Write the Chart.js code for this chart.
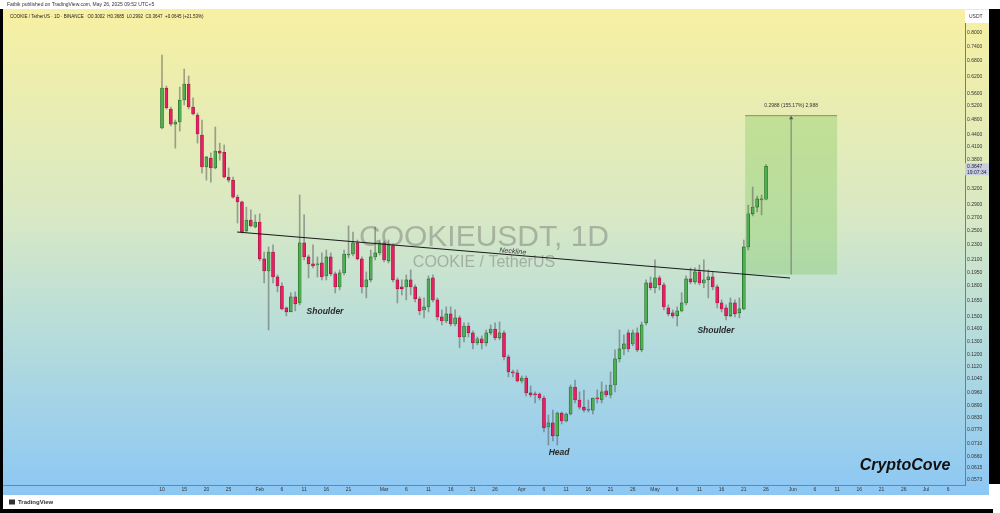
<!DOCTYPE html>
<html>
<head>
<meta charset="utf-8">
<script src="https://cdn.jsdelivr.net/npm/chart.js@4.4.1/dist/chart.umd.min.js"></script>
<style>
html, body { margin: 0; padding: 0; background: #fff; }
canvas { display: block; }
</style>
</head>
<body>
<canvas id="c" width="1000" height="513"></canvas>
<script>
// COOKIE / TetherUS, 1D candles, 2025-01-10 .. 2025-05-26
const startDate = '2025-01-10';

const opens = [
  0.4569, 0.578, 0.511, 0.4676, 0.4733, 0.539, 0.5922, 0.517, 0.4933, 0.4384,
  0.3631, 0.3829, 0.361, 0.3988, 0.396, 0.3422, 0.336, 0.304, 0.2955, 0.249,
  0.2655, 0.255, 0.2624, 0.2112, 0.1967, 0.2198, 0.1899, 0.180, 0.1582, 0.1545,
  0.1688, 0.1629, 0.232, 0.2136, 0.205, 0.2038, 0.2062, 0.191, 0.2136, 0.1933,
  0.179, 0.1944, 0.2161, 0.2174, 0.232, 0.2112, 0.179, 0.1866, 0.2136, 0.2187,
  0.232, 0.2087, 0.228, 0.1866, 0.179, 0.179, 0.1866, 0.179, 0.1668, 0.1563,
  0.1591, 0.1888, 0.1658, 0.15, 0.1464, 0.1527, 0.1439, 0.1491, 0.1333, 0.1422,
  0.1365, 0.1287, 0.1318, 0.1287, 0.1365, 0.1397, 0.1326, 0.1365, 0.1185, 0.1084,
  0.1078, 0.1028, 0.1046, 0.0958, 0.0952, 0.0952, 0.093, 0.0784, 0.0803, 0.0744,
  0.0851, 0.0812, 0.0846, 0.0992, 0.0919, 0.0881, 0.0866, 0.0866, 0.093, 0.0919,
  0.097, 0.0947, 0.1004, 0.1171, 0.1242, 0.1365, 0.1279, 0.1365, 0.1235, 0.1448,
  0.1833, 0.1781, 0.1888, 0.1812, 0.1582, 0.1536, 0.1509, 0.1554, 0.1629, 0.1877,
  0.1844, 0.1956, 0.1833, 0.1866, 0.1899, 0.179, 0.1629, 0.1582, 0.1509, 0.1629,
  0.1536, 0.1572, 0.2266, 0.2754, 0.2866, 0.2990, 0.3002
];
const highs = [
  0.7027, 0.585, 0.517, 0.479, 0.5817, 0.6469, 0.6208, 0.5455, 0.499, 0.479,
  0.386, 0.3944, 0.4595, 0.418, 0.4133, 0.361, 0.3422, 0.3078, 0.297, 0.2866,
  0.282, 0.2737, 0.2754, 0.2198, 0.2266, 0.2293, 0.1921, 0.1833, 0.1591, 0.173,
  0.1738, 0.3078, 0.2737, 0.2161, 0.2293, 0.2136, 0.2187, 0.2225, 0.2187, 0.1956,
  0.1979, 0.2225, 0.2565, 0.2475, 0.236, 0.2136, 0.1956, 0.2225, 0.255, 0.236,
  0.2347, 0.236, 0.2307, 0.1888, 0.1866, 0.1921, 0.1979, 0.1812, 0.1688, 0.1678,
  0.191, 0.1921, 0.1678, 0.1563, 0.1591, 0.1591, 0.1563, 0.1509, 0.1448, 0.1448,
  0.1381, 0.1333, 0.1341, 0.1389, 0.1431, 0.1448, 0.1456, 0.1381, 0.1199, 0.1097,
  0.1097, 0.1059, 0.1059, 0.0998, 0.0964, 0.0958, 0.0941, 0.0841, 0.0866, 0.0856,
  0.0856, 0.0851, 0.1004, 0.1034, 0.0964, 0.0975, 0.0919, 0.093, 0.0975, 0.1022,
  0.1004, 0.1084, 0.1235, 0.1389, 0.1349, 0.1389, 0.1389, 0.1406, 0.1456, 0.1866,
  0.1899, 0.2099, 0.191, 0.1833, 0.161, 0.1563, 0.1591, 0.173, 0.191, 0.2002,
  0.2002, 0.2038, 0.2099, 0.1979, 0.1956, 0.1812, 0.1658, 0.161, 0.1678, 0.1658,
  0.1678, 0.236, 0.290, 0.3226, 0.3060, 0.3078, 0.3685
];
const lows = [
  0.4542, 0.511, 0.4623, 0.4058, 0.4488, 0.5233, 0.511, 0.4933, 0.418, 0.3505,
  0.336, 0.332, 0.359, 0.378, 0.340, 0.332, 0.302, 0.2610, 0.246, 0.2475,
  0.255, 0.2535, 0.2087, 0.1833, 0.1389, 0.1833, 0.1738, 0.1563, 0.1509, 0.1554,
  0.1554, 0.161, 0.2099, 0.1888, 0.2002, 0.1899, 0.1866, 0.1866, 0.191, 0.1728,
  0.1759, 0.1921, 0.2124, 0.2149, 0.2099, 0.1728, 0.1678, 0.1844, 0.2099, 0.2161,
  0.2074, 0.2062, 0.1844, 0.1629, 0.1708, 0.1658, 0.1708, 0.1639, 0.1518, 0.1491,
  0.1545, 0.1639, 0.1473, 0.1431, 0.1448, 0.1422, 0.1422, 0.125, 0.1295, 0.1333,
  0.1242, 0.1272, 0.1242, 0.1264, 0.1349, 0.131, 0.131, 0.1164, 0.1053, 0.1053,
  0.1022, 0.1016, 0.0941, 0.0936, 0.0903, 0.0919, 0.0761, 0.0705, 0.0722, 0.0705,
  0.0798, 0.0807, 0.0841, 0.0903, 0.0871, 0.0856, 0.0856, 0.0846, 0.0903, 0.0903,
  0.0936, 0.093, 0.0964, 0.115, 0.1199, 0.1221, 0.1264, 0.1221, 0.1221, 0.1431,
  0.1759, 0.1728, 0.1759, 0.1563, 0.1509, 0.1491, 0.1422, 0.1545, 0.161, 0.1822,
  0.1822, 0.1812, 0.1781, 0.1678, 0.1759, 0.1582, 0.1545, 0.1473, 0.15, 0.15,
  0.1491, 0.1563, 0.2225, 0.2721, 0.2786, 0.2737, 0.2992
];
const closes = [
  0.5783, 0.514, 0.4676, 0.4733, 0.539, 0.5922, 0.517, 0.4963, 0.441, 0.3631,
  0.3852, 0.361, 0.3988, 0.394, 0.3422, 0.336, 0.304, 0.2955, 0.2475, 0.2655,
  0.2565, 0.2624, 0.2112, 0.1967, 0.2198, 0.1899, 0.180, 0.1572, 0.1545, 0.1688,
  0.162, 0.232, 0.2136, 0.205, 0.2026, 0.205, 0.1899, 0.2136, 0.1933, 0.179,
  0.1944, 0.2174, 0.2174, 0.232, 0.2112, 0.179, 0.1866, 0.2136, 0.2187, 0.232,
  0.2099, 0.2293, 0.1866, 0.177, 0.177, 0.1866, 0.179, 0.1668, 0.1554, 0.1591,
  0.1877, 0.1658, 0.15, 0.1464, 0.1527, 0.1439, 0.1491, 0.1333, 0.1422, 0.1365,
  0.1287, 0.1318, 0.1287, 0.1365, 0.1397, 0.1326, 0.1365, 0.1185, 0.1084, 0.1078,
  0.1028, 0.1046, 0.0958, 0.0947, 0.0947, 0.093, 0.0779, 0.0803, 0.0744, 0.0851,
  0.0812, 0.0846, 0.0992, 0.0919, 0.0881, 0.0866, 0.0871, 0.093, 0.0925, 0.0964,
  0.0947, 0.1004, 0.1171, 0.1242, 0.1279, 0.1242, 0.1365, 0.1235, 0.1431, 0.1833,
  0.1781, 0.1888, 0.1812, 0.1591, 0.1527, 0.1509, 0.1554, 0.1629, 0.1877, 0.1844,
  0.1956, 0.1833, 0.1866, 0.1899, 0.179, 0.1629, 0.1572, 0.1509, 0.1629, 0.1527,
  0.1572, 0.2266, 0.2754, 0.2866, 0.3008, 0.3002, 0.3647
];

// time axis
const tickDates = [
  '2025-01-10', '2025-01-15', '2025-01-20', '2025-01-25', '2025-02-01', '2025-02-06',
  '2025-02-11', '2025-02-16', '2025-02-21', '2025-03-01', '2025-03-06', '2025-03-11',
  '2025-03-16', '2025-03-21', '2025-03-26', '2025-04-01', '2025-04-06', '2025-04-11',
  '2025-04-16', '2025-04-21', '2025-04-26', '2025-05-01', '2025-05-06', '2025-05-11',
  '2025-05-16', '2025-05-21', '2025-05-26', '2025-06-01', '2025-06-06', '2025-06-11',
  '2025-06-16', '2025-06-21', '2025-06-26', '2025-07-01', '2025-07-06'
];
const tickLabels = [
  '10', '15', '20', '25', 'Feb', '6', '11', '16', '21', 'Mar', '6', '11',
  '16', '21', '26', 'Apr', '6', '11', '16', '21', '26', 'May', '6', '11',
  '16', '21', '26', 'Jun', '6', '11', '16', '21', '26', 'Jul', '6'
];

// price axis (log)
const priceTicks = [
  0.8, 0.74, 0.68, 0.62, 0.56, 0.52, 0.48, 0.44, 0.41, 0.38, 0.32, 0.29, 0.27,
  0.25, 0.23, 0.21, 0.195, 0.18, 0.165, 0.15, 0.14, 0.13, 0.12, 0.112, 0.104,
  0.096, 0.089, 0.083, 0.077, 0.071, 0.066, 0.0615, 0.0573
];

// drawings
const necklineDays = [16.9, 141.4];
const necklinePrices = [0.2474, 0.1887];
const targetDays = [131.3, 152.0];
const targetPrices = [0.19256, 0.49136];
const notes = [
  { text: 'Shoulder', day: 36.7, price: 0.1545 },
  { text: 'Head', day: 89.4, price: 0.0672 },
  { text: 'Shoulder', day: 124.7, price: 0.1381 }
];

const dayMs = 86400000;
const t0 = Date.parse(startDate);
const dayOf = d => (Date.parse(d) - t0) / dayMs;
const tickDays = tickDates.map(dayOf);

const up = opens.map((o, i) => closes[i] >= o);
const bodies = opens.map((o, i) => ({ x: i, y: [o, closes[i]] }));
const wicks = lows.map((l, i) => ({ x: i, y: [l, highs[i]] }));

const FONT = '"Liberation Sans", Arial, sans-serif';
Chart.defaults.font.family = FONT;

const frame = {
  id: 'frame',
  beforeDraw(chart) {
    const { ctx, width, height } = chart;
    ctx.save();
    ctx.fillStyle = '#fff';
    ctx.fillRect(0, 0, width, height);
    const g = ctx.createLinearGradient(0, 9, 0, 495);
    g.addColorStop(0, '#f7f0a2');
    g.addColorStop(0.42, '#d9e9c4');
    g.addColorStop(0.68, '#b5dcdc');
    g.addColorStop(1, '#8cc7f4');
    ctx.fillStyle = g;
    ctx.fillRect(3, 9, 986, 486);
    ctx.fillStyle = '#000';
    ctx.fillRect(0, 9, 3, 504);
    ctx.fillRect(989, 9, 11, 475);
    ctx.fillRect(0, 509, 993, 4);
    ctx.fillStyle = '#333';
    ctx.font = '5px ' + FONT;
    ctx.textBaseline = 'middle';
    ctx.fillText('Fatbik published on TradingView.com, May 26, 2025 09:52 UTC+5', 7, 4.5);
    ctx.font = '600 6px ' + FONT;
    ctx.fillText('TradingView', 18, 502);
    ctx.fillRect(9, 499.5, 6, 5);
    ctx.restore();
  },
  beforeDatasetsDraw(chart) {
    const { ctx, chartArea: a, scales: { x, y } } = chart;
    ctx.save();
    const cx = (a.left + a.right) / 2;
    const cy = (a.top + a.bottom) / 2;
    ctx.textAlign = 'center';
    ctx.textBaseline = 'middle';
    ctx.fillStyle = 'rgba(105,105,105,0.42)';
    ctx.font = '30px ' + FONT;
    ctx.fillText('COOKIEUSDT, 1D', cx, cy - 10);
    ctx.font = '16px ' + FONT;
    ctx.fillText('COOKIE / TetherUS', cx, cy + 15.5);
    // target box
    const x0 = x.getPixelForValue(targetDays[0]);
    const x1 = x.getPixelForValue(targetDays[1]);
    const yLo = y.getPixelForValue(targetPrices[0]);
    const yHi = y.getPixelForValue(targetPrices[1]);
    ctx.fillStyle = 'rgba(115,195,85,0.32)';
    ctx.fillRect(x0, yHi, x1 - x0, yLo - yHi);
    ctx.restore();
  },
  afterDatasetsDraw(chart) {
    const { ctx, chartArea: a, scales: { x, y } } = chart;
    ctx.save();
    // measurement arrow + text
    const x0 = x.getPixelForValue(targetDays[0]);
    const x1 = x.getPixelForValue(targetDays[1]);
    const yLo = y.getPixelForValue(targetPrices[0]);
    const yHi = y.getPixelForValue(targetPrices[1]);
    const xm = (x0 + x1) / 2;
    ctx.strokeStyle = 'rgba(80,90,80,0.8)';
    ctx.lineWidth = 0.8;
    ctx.beginPath();
    ctx.moveTo(x0, yHi); ctx.lineTo(x1, yHi);
    ctx.stroke();
    ctx.strokeStyle = 'rgba(90,90,90,0.75)';
    ctx.lineWidth = 1;
    ctx.beginPath();
    ctx.moveTo(xm, yLo); ctx.lineTo(xm, yHi + 1);
    ctx.stroke();
    ctx.fillStyle = 'rgba(80,80,80,0.85)';
    ctx.beginPath();
    ctx.moveTo(xm, yHi); ctx.lineTo(xm - 2.2, yHi + 3.5); ctx.lineTo(xm + 2.2, yHi + 3.5);
    ctx.fill();
    const diff = targetPrices[1] - targetPrices[0];
    ctx.fillStyle = '#333';
    ctx.font = '5px ' + FONT;
    ctx.textAlign = 'center';
    ctx.textBaseline = 'middle';
    ctx.fillText(diff.toFixed(4) + ' (' + (diff / targetPrices[0] * 100).toFixed(2) + '%) 2,988', xm, yHi - 10);

    // neckline label
    const nx0 = x.getPixelForValue(necklineDays[0]), ny0 = y.getPixelForValue(necklinePrices[0]);
    const nx1 = x.getPixelForValue(necklineDays[1]), ny1 = y.getPixelForValue(necklinePrices[1]);
    const lx = x.getPixelForValue(79);
    const ly = ny0 + (ny1 - ny0) * (lx - nx0) / (nx1 - nx0);
    ctx.save();
    ctx.translate(lx, ly - 3.5);
    ctx.rotate(Math.atan2(ny1 - ny0, nx1 - nx0));
    ctx.font = 'italic 7px ' + FONT;
    ctx.fillStyle = '#333';
    ctx.fillText('Neckline', 0, 0);
    ctx.restore();

    // pattern notes
    ctx.font = 'italic 600 8.5px ' + FONT;
    ctx.fillStyle = '#2a2a2a';
    notes.forEach(n => ctx.fillText(n.text, x.getPixelForValue(n.day), y.getPixelForValue(n.price)));

    // header
    ctx.textAlign = 'left';
    ctx.font = '4.5px ' + FONT;
    ctx.fillStyle = '#222';
    const last = opens.length - 1;
    const chg = closes[last] - closes[last - 1];
    ctx.fillText('COOKIE / TetherUS \u00b7 1D \u00b7 BINANCE   O' + opens[last].toFixed(4) + '  H' + highs[last].toFixed(4) +
      '  L' + lows[last].toFixed(4) + '  C' + closes[last].toFixed(4) + '  +' + chg.toFixed(4) + ' (+21.53%)', 10, 17);

    // USDT box and last price label
    ctx.font = '5px ' + FONT;
    ctx.fillStyle = '#fff';
    ctx.fillRect(a.right, 10, 24, 13);
    ctx.fillStyle = '#333';
    ctx.fillText('USDT', a.right + 4, 16.5);
    const py = y.getPixelForValue(closes[last]);
    ctx.fillStyle = '#c9cde2';
    ctx.fillRect(a.right, py - 3, 24, 12);
    ctx.fillStyle = '#223';
    ctx.fillText(closes[last].toFixed(4), a.right + 2, py);
    ctx.fillText('19:07:34', a.right + 2, py + 6);

    // brand
    ctx.font = 'italic 700 16px ' + FONT;
    ctx.fillStyle = '#111';
    ctx.textAlign = 'center';
    ctx.fillText('CryptoCove', 905, 466);
    ctx.restore();
  }
};

new Chart(document.getElementById('c'), {
  type: 'bar',
  data: {
    datasets: [
      {
        type: 'line',
        data: necklineDays.map((d, i) => ({ x: d, y: necklinePrices[i] })),
        borderColor: '#1a1a1a',
        borderWidth: 1.1,
        pointRadius: 0,
        order: 0
      },
      {
        data: bodies,
        backgroundColor: up.map(u => u ? '#4caf50' : '#e91e63'),
        borderColor: up.map(u => u ? '#1f5a22' : '#8a1538'),
        borderWidth: 0.6,
        borderSkipped: false,
        barThickness: 3,
        minBarLength: 1,
        grouped: false,
        order: 1
      },
      {
        data: wicks,
        backgroundColor: 'rgba(95,95,95,0.55)',
        barThickness: 1,
        grouped: false,
        order: 2
      }
    ]
  },
  options: {
    responsive: false,
    animation: false,
    events: [],
    layout: { padding: { left: 3, top: 10, right: 11, bottom: 18 } },
    plugins: { legend: { display: false }, tooltip: { enabled: false } },
    scales: {
      x: {
        type: 'linear',
        min: -35.8,
        max: 180.8,
        offset: false,
        bounds: 'data',
        grid: { display: false, drawTicks: false },
        border: { display: true, color: '#6f8799' },
        ticks: {
          autoSkip: false, maxRotation: 0, padding: 2, color: '#333',
          font: { size: 5 },
          callback: (v, i) => tickLabels[i]
        },
        afterBuildTicks: s => { s.ticks = tickDays.map(v => ({ value: v })); },
        afterFit: s => { s.height = 10; }
      },
      y: {
        type: 'logarithmic',
        position: 'right',
        min: 0.05567,
        max: 0.9162,
        bounds: 'data',
        grid: { display: false, drawTicks: false },
        border: { display: true, color: '#6f7f80' },
        ticks: {
          autoSkip: false, padding: 2, color: '#333',
          font: { size: 5 },
          callback: (v, i) => priceTicks[i].toFixed(4)
        },
        afterBuildTicks: s => { s.ticks = priceTicks.map(v => ({ value: v })); },
        afterFit: s => { s.width = 24; }
      }
    }
  },
  plugins: [frame]
});
</script>
</body>
</html>
